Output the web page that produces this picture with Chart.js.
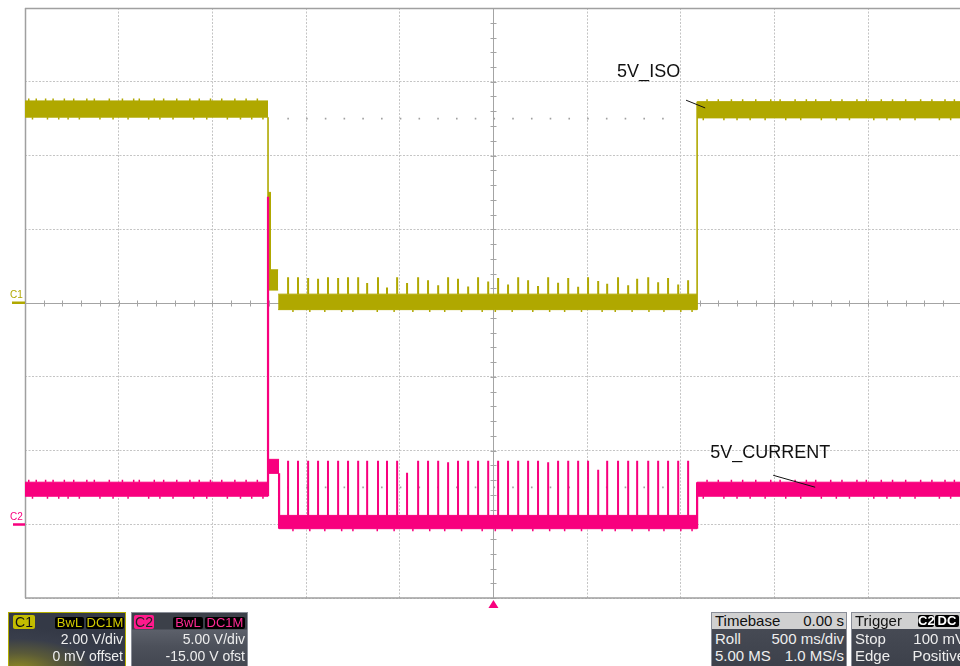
<!DOCTYPE html>
<html>
<head>
<meta charset="utf-8">
<script src="https://cdn.jsdelivr.net/npm/chart.js@4.4.1/dist/chart.umd.min.js"></script>
<style>
html,body{margin:0;padding:0;background:#fff;overflow:hidden;width:960px;height:666px;}
#wrap{position:absolute;left:0;top:0;width:960px;height:666px;overflow:hidden;}
#scope{position:absolute;left:0;top:0;}
.panel{position:absolute;top:612px;height:58px;box-sizing:border-box;font-family:"Liberation Sans",Arial,sans-serif;font-size:14px;color:#eeeeee;overflow:hidden;}
.tag{position:absolute;top:4px;height:12px;line-height:12px;font-size:13px;text-align:center;border-radius:2px;}
.blk{background:#000;}
.row{position:absolute;left:2px;right:2px;height:17px;line-height:17px;white-space:nowrap;}
.row .l{position:absolute;left:1px;}
.row .r{position:absolute;right:0;}
.hdr{position:absolute;left:0;right:0;top:0;height:16px;line-height:16px;background:#d0d0d0;color:#111;font-size:15px;}
</style>
</head>
<body>
<div id="wrap">
<canvas id="scope" width="960" height="666"></canvas>

<div class="panel" style="left:8px;width:118px;border:1px solid #b4ae00;background:radial-gradient(ellipse 90% 75% at 8% 100%, #8e8a22 0%, #5a5a38 38%, #393e4b 72%, #343946 100%);">
  <span class="tag" style="left:4px;top:2px;height:14px;line-height:14px;width:22px;background:#c2bc00;color:#111;font-size:14px;">C1</span>
  <span class="tag blk" style="left:46px;width:29px;color:#d4cc00;">BwL</span>
  <span class="tag blk" style="left:77px;width:38px;color:#d4cc00;">DC1M</span>
  <div class="row" style="top:18px;text-align:right;">2.00 V/div</div>
  <div class="row" style="top:35px;text-align:right;">0 mV offset</div>
</div>

<div class="panel" style="left:131px;width:117px;border:1px solid #8a8e98;background:linear-gradient(#3c4049 0px,#3c4049 16px,#5c606a 17px,#4c505a 34px,#42464f 56px);">
  <span class="tag" style="left:2px;top:2px;height:14px;line-height:14px;width:20px;background:#ff1a8c;color:#222;font-size:14px;">C2</span>
  <span class="tag blk" style="left:41px;width:30px;color:#ff2a94;">BwL</span>
  <span class="tag blk" style="left:73px;width:40px;color:#ff2a94;">DC1M</span>
  <div class="row" style="top:18px;text-align:right;">5.00 V/div</div>
  <div class="row" style="top:35px;text-align:right;">-15.00 V ofst</div>
</div>

<div class="panel" style="left:711px;width:136px;border:1px solid #8a8e98;background:linear-gradient(#4a4e58,#3c404a);font-size:15px;">
  <div class="hdr"><span style="position:absolute;left:3px;">Timebase</span><span style="position:absolute;right:2px;">0.00 s</span></div>
  <div class="row" style="top:17px;"><span class="l">Roll</span><span class="r">500 ms/div</span></div>
  <div class="row" style="top:34px;"><span class="l">5.00 MS</span><span class="r">1.0 MS/s</span></div>
</div>

<div class="panel" style="left:851px;width:120px;border:1px solid #8a8e98;background:linear-gradient(#4a4e58,#3c404a);font-size:15px;">
  <div class="hdr"><span style="position:absolute;left:3px;">Trigger</span>
    <span class="tag blk" style="left:66px;top:2px;width:16px;color:#fff;font-weight:bold;">C2</span>
    <span class="tag blk" style="left:83px;top:2px;width:24px;color:#fff;font-weight:bold;">DC</span></div>
  <div class="row" style="top:17px;"><span class="l">Stop</span><span class="r" style="right:3px;">100 mV</span></div>
  <div class="row" style="top:34px;"><span class="l">Edge</span><span class="r" style="right:3px;">Positive</span></div>
</div>
</div>

<script>
// ---------- data (time in s, C1 in V on 2 V/div, C2 in V on 5 V/div, -15 V offset) ----------
const timeMax = 4.99;
const centerTime = 2.5;

// C1 (5V_ISO) noisy band segments
const bandStartC1 = [0, 1.297, 1.297, 1.351, 3.587];
const bandEndC1   = [1.297, 1.313, 1.351, 3.587, 4.99];
const bandTopC1   = [5.48, 3.00, 0.90, 0.24, 5.46];
const bandBotC1   = [5.04, 0.90, 0.35, -0.18, 5.02];
// C1 edges
const edgeTimeC1 = [1.297, 3.587];
const edgeFromC1 = [5.04, -0.18];
const edgeToC1   = [0.35, 5.46];

// C2 (5V_CURRENT) noisy band segments
const bandStartC2 = [0, 1.297, 1.356, 3.587];
const bandEndC2   = [1.297, 1.356, 3.587, 4.99];
const bandTopC2   = [2.85, 4.40, 0.60, 2.85];
const bandBotC2   = [1.90, 3.45, -0.30, 1.90];
// C2 edges
const edgeTimeC2 = [1.297, 1.356, 3.587];
const edgeFromC2 = [1.90, 3.45, -0.30];
const edgeToC2   = [22.2, -0.30, 2.85];

// switching spikes during the low phase
const spikeTimes = [1.404, 1.457, 1.511, 1.564, 1.617, 1.671, 1.724, 1.778, 1.826, 1.884,
  1.932, 1.986, 2.039, 2.098, 2.151, 2.205, 2.258, 2.311, 2.365, 2.418,
  2.472, 2.525, 2.578, 2.632, 2.685, 2.738, 2.792, 2.845, 2.899, 2.952,
  3.005, 3.059, 3.107, 3.165, 3.219, 3.267, 3.326, 3.379, 3.432, 3.486, 3.539];
const spikePeakC1 = [0.70, 0.70, 0.68, 0.66, 0.70, 0.68, 0.70, 0.70, 0.54, 0.70,
  0.42, 0.70, 0.54, 0.70, 0.62, 0.48, 0.70, 0.66, 0.45, 0.70,
  0.58, 0.68, 0.50, 0.70, 0.62, 0.46, 0.70, 0.55, 0.68, 0.44,
  0.70, 0.60, 0.52, 0.70, 0.48, 0.66, 0.70, 0.56, 0.68, 0.50, 0.62];
const spikePeakC2 = [4.3, 4.3, 4.3, 4.3, 4.3, 4.3, 4.3, 4.3, 4.3, 4.3,
  4.3, 4.3, 3.5, 4.3, 4.3, 4.3, 4.2, 4.3, 4.3, 4.3,
  4.3, 4.3, 4.3, 4.3, 4.3, 4.3, 4.2, 4.3, 4.3, 4.3,
  4.3, 3.7, 4.3, 4.3, 4.3, 4.3, 4.3, 4.3, 4.3, 4.3, 4.3];

// small noise excursions on the edges of the high-level bands
const highNoiseUp = [0.02, 0.06, 0.11, 0.15, 0.21, 0.26, 0.33, 0.37, 0.45, 0.52, 0.58, 0.61, 0.69,
  0.74, 0.81, 0.88, 0.93, 0.99, 1.05, 1.12, 1.18, 1.24, 3.64, 3.70, 3.77, 3.83, 3.90, 3.98,
  4.03, 4.11, 4.17, 4.22, 4.30, 4.36, 4.44, 4.49, 4.57, 4.63, 4.70, 4.78, 4.84, 4.91, 4.96];
const highNoiseDown = [0.04, 0.12, 0.18, 0.23, 0.29, 0.40, 0.47, 0.55, 0.66, 0.72, 0.79, 0.90, 0.97,
  1.08, 1.15, 1.21, 1.27, 3.62, 3.73, 3.80, 3.87, 3.95, 4.06, 4.14, 4.25, 4.33, 4.40, 4.53,
  4.60, 4.67, 4.75, 4.88, 4.94];
const lowNoiseDown = [1.43, 1.52, 1.60, 1.69, 1.75, 1.88, 1.97, 2.07, 2.16, 2.24, 2.33, 2.44, 2.51,
  2.60, 2.71, 2.80, 2.88, 2.97, 3.08, 3.15, 3.24, 3.33, 3.41, 3.50, 3.56];
const noiseAmpC1 = 0.065;
const noiseAmpC2 = 0.17;

// dotted previous-level markers
const ghostTimes = [1.4, 3.5];
const ghostLevelC1 = 5.0;
const ghostLevelC2 = 2.5;

// labels
const labelIso = {text: '5V_ISO', t: 3.160, v: 6.13, lineFrom: [3.528, 5.50], lineTo: [3.630, 5.29]};
const labelCur = {text: '5V_CURRENT', t: 3.657, v: 4.47, lineFrom: [3.993, 3.32], lineTo: [4.217, 2.51]};

const colC1 = '#b0a800';
const colC2 = '#f8007e';

// ---------- dataset builders ----------
function bandSets(starts, ends, tops, bots, color, axis) {
  const out = [];
  starts.forEach((s, i) => {
    out.push({data: [{x: s, y: bots[i]}, {x: ends[i], y: bots[i]}], borderColor: color, borderWidth: 1, fill: false, yAxisID: axis});
    out.push({data: [{x: s, y: tops[i]}, {x: ends[i], y: tops[i]}], borderColor: color, borderWidth: 1, backgroundColor: color, fill: '-1', yAxisID: axis});
  });
  return out;
}
function stemSet(times, from, to, color, axis, width) {
  const d = [];
  times.forEach((t, i) => { d.push({x: t, y: from[i]}, {x: t, y: to[i]}, {x: t, y: null}); });
  return {data: d, borderColor: color, borderWidth: width, fill: false, yAxisID: axis, spanGaps: false};
}
// level of the band containing time t
function levelAt(t, starts, ends, vals, idx) {
  return t < ends[0] ? vals[0] : vals[idx];
}

const datasets = [];
// C2
datasets.push(stemSet(edgeTimeC2, edgeFromC2, edgeToC2, colC2, 'y2', 2.2));
datasets.push(stemSet(spikeTimes, spikeTimes.map(() => bandTopC2[2]), spikePeakC2, colC2, 'y2', 2));
datasets.push(stemSet(highNoiseUp, highNoiseUp.map(t => levelAt(t, bandStartC2, bandEndC2, bandTopC2, 3)),
  highNoiseUp.map(t => levelAt(t, bandStartC2, bandEndC2, bandTopC2, 3) + noiseAmpC2), colC2, 'y2', 1.5));
datasets.push(stemSet(highNoiseDown, highNoiseDown.map(t => levelAt(t, bandStartC2, bandEndC2, bandBotC2, 3)),
  highNoiseDown.map(t => levelAt(t, bandStartC2, bandEndC2, bandBotC2, 3) - noiseAmpC2), colC2, 'y2', 1.5));
datasets.push(stemSet(lowNoiseDown, lowNoiseDown.map(() => bandBotC2[2]), lowNoiseDown.map(() => bandBotC2[2] - noiseAmpC2), colC2, 'y2', 1.5));
bandSets(bandStartC2, bandEndC2, bandTopC2, bandBotC2, colC2, 'y2').forEach(d => datasets.push(d));
// C1
datasets.push(stemSet(edgeTimeC1, edgeFromC1, edgeToC1, colC1, 'y1', 1.6));
datasets.push(stemSet(spikeTimes, spikeTimes.map(() => bandTopC1[3]), spikePeakC1, colC1, 'y1', 2));
datasets.push(stemSet(highNoiseUp, highNoiseUp.map(t => levelAt(t, bandStartC1, bandEndC1, bandTopC1, 4)),
  highNoiseUp.map(t => levelAt(t, bandStartC1, bandEndC1, bandTopC1, 4) + noiseAmpC1), colC1, 'y1', 1.5));
datasets.push(stemSet(highNoiseDown, highNoiseDown.map(t => levelAt(t, bandStartC1, bandEndC1, bandBotC1, 4)),
  highNoiseDown.map(t => levelAt(t, bandStartC1, bandEndC1, bandBotC1, 4) - noiseAmpC1), colC1, 'y1', 1.5));
datasets.push(stemSet(lowNoiseDown, lowNoiseDown.map(() => bandBotC1[3]), lowNoiseDown.map(() => bandBotC1[3] - noiseAmpC1), colC1, 'y1', 1.5));
bandSets(bandStartC1, bandEndC1, bandTopC1, bandBotC1, colC1, 'y1').forEach(d => datasets.push(d));
// dotted markers
datasets.push({data: ghostTimes.map(t => ({x: t, y: ghostLevelC1})), borderColor: '#a0a0a0', borderWidth: 1.6, borderDash: [1.6, 17.14], fill: false, yAxisID: 'y1'});
datasets.push({data: ghostTimes.map(t => ({x: t, y: ghostLevelC2})), borderColor: '#a0a0a0', borderWidth: 1.6, borderDash: [1.6, 17.14], fill: false, yAxisID: 'y2'});

// ---------- scope decorations ----------
const scopePlugin = {
  id: 'scope',
  beforeDatasetsDraw(chart) {
    const {ctx, chartArea: a, scales} = chart;
    const x = scales.x, y1 = scales.y1, y2 = scales.y2;
    ctx.save();
    const cx = Math.round(x.getPixelForValue(centerTime)) + 0.5;
    const cy = Math.round(y1.getPixelForValue(0)) + 0.5;
    ctx.strokeStyle = '#a4a4a4';
    ctx.lineWidth = 1;
    ctx.beginPath();
    ctx.moveTo(a.left, cy); ctx.lineTo(a.right, cy);
    ctx.moveTo(cx, a.top); ctx.lineTo(cx, a.bottom);
    for (let i = 0; i <= 50; i++) {
      const px = Math.round(x.getPixelForValue(i * 0.1)) + 0.5;
      ctx.moveTo(px, cy - 3); ctx.lineTo(px, cy + 3);
    }
    for (let i = -20; i <= 20; i++) {
      const py = Math.round(y1.getPixelForValue(i * 0.4)) + 0.5;
      ctx.moveTo(cx - 3, py); ctx.lineTo(cx + 3, py);
    }
    ctx.stroke();
    // frame
    ctx.strokeStyle = '#a0a0a0';
    ctx.lineWidth = 1.5;
    ctx.beginPath();
    ctx.moveTo(a.left + 0.5, a.top); ctx.lineTo(a.left + 0.5, a.bottom);
    ctx.moveTo(a.left, a.top + 0.5); ctx.lineTo(a.right, a.top + 0.5);
    ctx.moveTo(a.left, a.bottom); ctx.lineTo(a.right, a.bottom);
    ctx.stroke();
    // channel ground markers
    ctx.font = '10px "Liberation Sans", Arial, sans-serif';
    ctx.textBaseline = 'alphabetic';
    ctx.textAlign = 'left';
    const g1 = y1.getPixelForValue(0), g2 = y2.getPixelForValue(0);
    ctx.fillStyle = colC1;
    ctx.fillText('C1', 10, g1 - 5);
    ctx.fillRect(12, g1 - 1.5, a.left - 12, 2.5);
    ctx.fillStyle = colC2;
    ctx.fillText('C2', 10, g2 - 4);
    ctx.fillRect(13, g2 - 1, a.left - 13, 2.5);
    ctx.restore();
  },
  afterDatasetsDraw(chart) {
    const {ctx, chartArea: a, scales} = chart;
    const x = scales.x, y1 = scales.y1, y2 = scales.y2;
    ctx.save();
    ctx.font = '18px "Liberation Sans", Arial, sans-serif';
    ctx.fillStyle = '#111';
    ctx.strokeStyle = '#111';
    ctx.lineWidth = 1;
    ctx.textAlign = 'left';
    ctx.textBaseline = 'alphabetic';
    [[labelIso, y1], [labelCur, y2]].forEach(([lb, ys]) => {
      ctx.fillText(lb.text, x.getPixelForValue(lb.t), ys.getPixelForValue(lb.v));
      ctx.beginPath();
      ctx.moveTo(x.getPixelForValue(lb.lineFrom[0]), ys.getPixelForValue(lb.lineFrom[1]));
      ctx.lineTo(x.getPixelForValue(lb.lineTo[0]), ys.getPixelForValue(lb.lineTo[1]));
      ctx.stroke();
    });
    // trigger position marker
    const tx = x.getPixelForValue(centerTime);
    ctx.fillStyle = colC2;
    ctx.beginPath();
    ctx.moveTo(tx, a.bottom + 2);
    ctx.lineTo(tx + 5, a.bottom + 10);
    ctx.lineTo(tx - 5, a.bottom + 10);
    ctx.closePath();
    ctx.fill();
    ctx.restore();
  }
};

const gridCommon = {color: '#c4c4c4', lineWidth: 1, drawTicks: false};
new Chart(document.getElementById('scope'), {
  type: 'line',
  data: {datasets},
  plugins: [scopePlugin],
  options: {
    responsive: false,
    animation: false,
    events: [],
    layout: {padding: {left: 25, top: 8, right: 0, bottom: 68}},
    elements: {point: {radius: 0}, line: {tension: 0}},
    plugins: {legend: {display: false}, tooltip: {enabled: false}},
    scales: {
      x: {type: 'linear', min: 0, max: timeMax, grid: gridCommon, border: {display: false, dash: [2, 1.5]},
          ticks: {display: false, stepSize: 0.5, includeBounds: false}},
      y1: {type: 'linear', position: 'left', min: -8, max: 8, grid: gridCommon, border: {display: false, dash: [2, 1.5]},
           ticks: {display: false, stepSize: 2}},
      y2: {type: 'linear', position: 'right', min: -5, max: 35, display: false}
    }
  }
});
</script>
</body>
</html>
